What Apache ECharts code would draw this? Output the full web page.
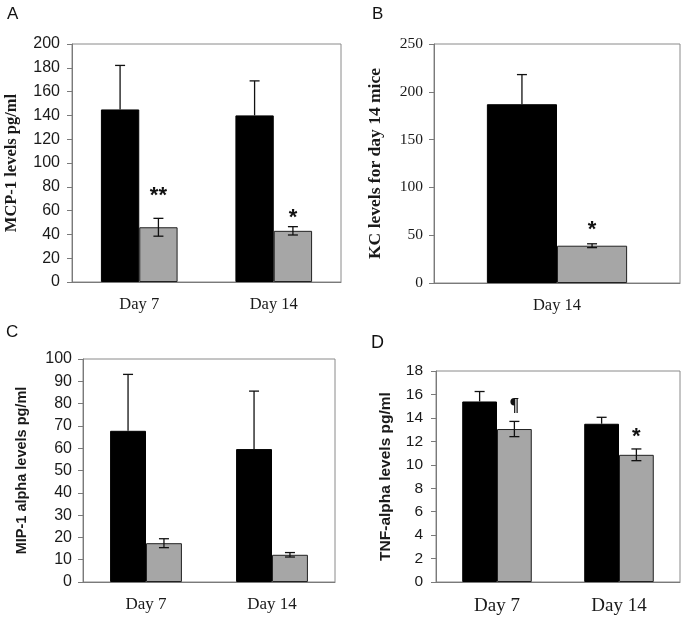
<!DOCTYPE html>
<html>
<head>
<meta charset="utf-8">
<script src="https://cdn.jsdelivr.net/npm/echarts@6/dist/echarts.min.js"></script>
<style>html,body{margin:0;padding:0;background:#fff}#c{width:685px;height:622px}</style>
</head>
<body>
<div id="c"></div>
<script>
// ---- data ----
const panelLetters = ['A', 'B', 'C', 'D'];

const catsA = ['Day 7', 'Day 14'];
const mcpBlack = [145, 140];
const mcpBlackErr = [37, 29];
const mcpGray = [46, 43];
const mcpGrayErr = [7.5, 3.5];
const mcpMarks = ['**', '*'];
const mcpTitle = 'MCP-1 levels pg/ml';

const catsB = ['Day 14'];
const kcBlack = [187];
const kcBlackErr = [31];
const kcGray = [39];
const kcGrayErr = [2];
const kcMarks = ['*'];
const kcTitle = 'KC levels for day 14 mice';

const catsC = ['Day 7', 'Day 14'];
const mipBlack = [67.8, 59.6];
const mipBlackErr = [25.3, 26];
const mipGray = [17.4, 12.2];
const mipGrayErr = [2, 1];
const mipMarks = ['', ''];
const mipTitle = 'MIP-1 alpha levels pg/ml';

const catsD = ['Day 7', 'Day 14'];
const tnfBlack = [15.4, 13.5];
const tnfBlackErr = [0.85, 0.55];
const tnfGray = [13.05, 10.85];
const tnfGrayErr = [0.65, 0.5];
const tnfMarks = ['¶', '*'];
const tnfTitle = 'TNF-alpha levels pg/ml';

const yMax = [200, 250, 100, 18];
const yStep = [20, 50, 10, 2];

// ---- styles ----
const BAR_FRAC = 0.285;
const SANS = 'Liberation Sans, Arial, sans-serif';
const SERIF = 'Liberation Serif, Times New Roman, serif';
const TXT = '#1a1a1a';
const AX = '#7a7a7a';

const panels = [
  { cats: catsA, black: mcpBlack, blackErr: mcpBlackErr, gray: mcpGray, grayErr: mcpGrayErr, marks: mcpMarks, title: mcpTitle,
    grid: { left: 72, top: 44, width: 269, height: 238 },
    tickFont: SANS, tickSize: 16, tickMargin: 12, titleFont: SERIF, titleSize: 16.5, nameGap: 52,
    xSize: 16.5, xMargin: 14, markOffsets: [22, 9], markSizes: [22, 22], markFonts: [SANS, SANS] },
  { cats: catsB, black: kcBlack, blackErr: kcBlackErr, gray: kcGray, grayErr: kcGrayErr, marks: kcMarks, title: kcTitle,
    grid: { left: 434, top: 44, width: 246, height: 239 },
    tickFont: SERIF, tickSize: 15.5, tickMargin: 11, titleFont: SERIF, titleSize: 17.5, nameGap: 50,
    xSize: 16.5, xMargin: 14, markOffsets: [14], markSizes: [22], markFonts: [SANS] },
  { cats: catsC, black: mipBlack, blackErr: mipBlackErr, gray: mipGray, grayErr: mipGrayErr, marks: mipMarks, title: mipTitle,
    grid: { left: 83, top: 359, width: 252, height: 223 },
    tickFont: SANS, tickSize: 16, tickMargin: 11, titleFont: SANS, titleSize: 14.5, nameGap: 54,
    xSize: 17, xMargin: 14, markOffsets: [12, 12], markSizes: [20, 20], markFonts: [SANS, SANS] },
  { cats: catsD, black: tnfBlack, blackErr: tnfBlackErr, gray: tnfGray, grayErr: tnfGrayErr, marks: tnfMarks, title: tnfTitle,
    grid: { left: 436, top: 371, width: 244, height: 211 },
    tickFont: SANS, tickSize: 15.5, tickMargin: 13, titleFont: SANS, titleSize: 15.5, nameGap: 42,
    xSize: 19, xMargin: 15, markOffsets: [15, 12], markSizes: [18, 22], markFonts: [SERIF, SANS] }
];

const letterPos = [[7, 6], [372, 6], [6, 324], [371, 334]];

function errRender(side, p) {
  return function (params, api) {
    const ci = api.value(0), v = api.value(1), e = api.value(2);
    const c = api.coord([ci, v]);
    const bw = api.size([1, 0])[0];
    const x = c[0] + side * bw * BAR_FRAC / 2;
    const yt = api.coord([ci, v + e])[1];
    const yb = side < 0 ? c[1] : api.coord([ci, v - e])[1];
    const cap = 5;
    const st = { stroke: '#111', lineWidth: 1.3 };
    const children = [
      { type: 'line', shape: { x1: x, y1: yt, x2: x, y2: yb }, style: st },
      { type: 'line', shape: { x1: x - cap, y1: yt, x2: x + cap, y2: yt }, style: st }
    ];
    if (side > 0) {
      children.push({ type: 'line', shape: { x1: x - cap, y1: yb, x2: x + cap, y2: yb }, style: st });
      const m = p.marks[params.dataIndex];
      if (m) {
        children.push({
          type: 'text',
          style: {
            text: m, x: x, y: yt - p.markOffsets[params.dataIndex],
            align: 'center', verticalAlign: 'middle',
            font: 'bold ' + p.markSizes[params.dataIndex] + 'px ' + p.markFonts[params.dataIndex],
            fill: '#111'
          }
        });
      }
    }
    return { type: 'group', children: children };
  };
}

const grids = [], xAxes = [], yAxes = [], series = [];
panels.forEach((p, i) => {
  grids.push(Object.assign({ show: true, borderColor: '#8a8a8a', borderWidth: 1, backgroundColor: 'transparent' }, p.grid));
  xAxes.push({
    type: 'category', gridIndex: i, data: p.cats,
    axisLine: { lineStyle: { color: AX, width: 1 } },
    axisTick: { show: false },
    axisLabel: { fontFamily: SERIF, fontSize: p.xSize, color: TXT, margin: p.xMargin }
  });
  yAxes.push({
    type: 'value', gridIndex: i, min: 0, max: yMax[i], interval: yStep[i],
    splitLine: { show: false },
    axisLine: { show: true, lineStyle: { color: AX, width: 1 } },
    axisTick: { show: true, inside: false, length: 5, lineStyle: { color: AX } },
    axisLabel: { fontFamily: p.tickFont, fontSize: p.tickSize, color: TXT, margin: p.tickMargin },
    name: p.title, nameLocation: 'middle', nameGap: p.nameGap,
    nameTextStyle: { fontFamily: p.titleFont, fontWeight: 'bold', fontSize: p.titleSize, color: TXT }
  });
  series.push({
    type: 'bar', xAxisIndex: i, yAxisIndex: i, data: p.black,
    barWidth: (BAR_FRAC * 100) + '%', barGap: '0%',
    itemStyle: { color: '#000', borderColor: '#000', borderWidth: 1 }, z: 2
  });
  series.push({
    type: 'bar', xAxisIndex: i, yAxisIndex: i, data: p.gray,
    barWidth: (BAR_FRAC * 100) + '%', barGap: '0%',
    itemStyle: { color: '#a6a6a6', borderColor: '#222', borderWidth: 1 }, z: 2
  });
  series.push({
    type: 'custom', xAxisIndex: i, yAxisIndex: i, z: 5,
    renderItem: errRender(-1, p),
    data: p.black.map((v, k) => [k, v, p.blackErr[k]])
  });
  series.push({
    type: 'custom', xAxisIndex: i, yAxisIndex: i, z: 5,
    renderItem: errRender(1, p),
    data: p.gray.map((v, k) => [k, v, p.grayErr[k]])
  });
});

const chart = echarts.init(document.getElementById('c'), null, { renderer: 'canvas' });
chart.setOption({
  animation: false,
  backgroundColor: '#fff',
  grid: grids, xAxis: xAxes, yAxis: yAxes, series: series,
  graphic: panelLetters.map((t, i) => ({
    type: 'text', left: letterPos[i][0], top: letterPos[i][1],
    style: { text: t, font: (i === 3 ? 18 : 17) + 'px ' + SANS, fill: '#111' }
  }))
});
</script>
</body>
</html>
